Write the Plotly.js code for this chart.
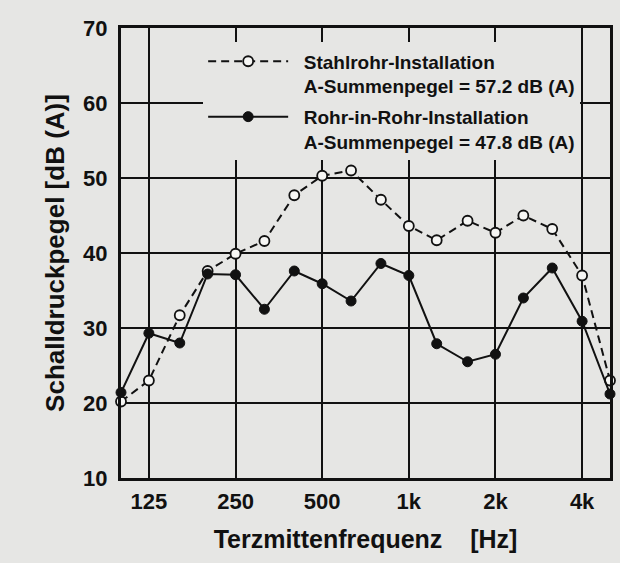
<!DOCTYPE html>
<html>
<head>
<meta charset="utf-8">
<script src="https://cdn.plot.ly/plotly-3.0.1.min.js"></script>
<style>html,body{margin:0;padding:0;background:#e6e6e4;}#chart{width:620px;height:563px;}</style>
</head>
<body>
<div id="chart"></div>
<script>
// Third-octave band centre frequencies [Hz]
const freqs = [100, 125, 160, 200, 250, 315, 400, 500, 630, 800, 1000, 1250, 1600, 2000, 2500, 3150, 4000, 5000];
// Stahlrohr-Installation [dB(A)]
const stahlrohr = [20.2, 23.0, 31.7, 37.6, 39.9, 41.6, 47.7, 50.3, 51.0, 47.1, 43.6, 41.7, 44.3, 42.7, 45.0, 43.2, 37.0, 23.0];
// Rohr-in-Rohr-Installation [dB(A)]
const rohrInRohr = [21.4, 29.3, 28.0, 37.2, 37.1, 32.5, 37.6, 35.9, 33.6, 38.6, 37.0, 27.9, 25.5, 26.5, 34.0, 38.0, 30.9, 21.2];
const tickVals = [125, 250, 500, 1000, 2000, 4000];
const tickText = ['125', '250', '500', '1k', '2k', '4k'];
const seriesNames = [
  '&nbsp;&nbsp;Stahlrohr-Installation<br>&nbsp;&nbsp;A-Summenpegel = 57.2 dB (A)',
  '&nbsp;&nbsp;Rohr-in-Rohr-Installation<br>&nbsp;&nbsp;A-Summenpegel = 47.8 dB (A)'
];

const FONT = 'Liberation Sans, Arial, Helvetica, sans-serif';
const BG = '#e6e6e4';
const INK = '#111';

const traces = [
  {
    x: freqs, y: stahlrohr, name: seriesNames[0], legendgroup: 'stahl', type: 'scatter', mode: 'lines+markers',
    line: {color: INK, width: 2, dash: '8px,5px'},
    marker: {symbol: 'circle', size: 10, color: '#f6f6f4', line: {color: INK, width: 1.8}},
    cliponaxis: false
  },
  {
    x: freqs, y: rohrInRohr, name: seriesNames[1], legendgroup: 'rohr', type: 'scatter', mode: 'lines+markers',
    line: {color: INK, width: 2},
    marker: {symbol: 'circle', size: 10, color: INK, line: {color: INK, width: 1}},
    cliponaxis: false
  }
];

const layout = {
  width: 620, height: 563,
  paper_bgcolor: BG, plot_bgcolor: BG,
  margin: {l: 121, r: 10, t: 28, b: 85},
  showlegend: true,
  font: {family: FONT, color: INK},
  xaxis: {
    type: 'log', range: [Math.log10(100), Math.log10(5000)],
    tickvals: tickVals, ticktext: tickText,
    showgrid: true, gridcolor: INK, gridwidth: 2,
    showline: true, mirror: true, linecolor: INK, linewidth: 3,
    ticks: '', zeroline: false, ticklabelstandoff: 2,
    tickfont: {family: FONT, size: 22, color: INK, weight: 'bold'},
    title: {text: 'Terzmittenfrequenz&nbsp;&nbsp;&nbsp;&nbsp;[Hz]', font: {family: FONT, size: 25, color: INK, weight: 'bold'}, standoff: 18}
  },
  yaxis: {
    range: [10, 70], dtick: 10, tick0: 10,
    showgrid: true, gridcolor: INK, gridwidth: 2,
    showline: true, mirror: true, linecolor: INK, linewidth: 3,
    ticks: '', zeroline: false, ticklabelstandoff: 6,
    tickfont: {family: FONT, size: 22, color: INK, weight: 'bold'},
    title: {text: 'Schalldruckpegel [dB (A)]', font: {family: FONT, size: 26, color: INK, weight: 'bold'}, standoff: 12}
  },
  legend: {
    x: 0.168, y: 0.968, xanchor: 'left', yanchor: 'top',
    bgcolor: BG, borderwidth: 0,
    font: {family: FONT, size: 19, color: INK, weight: 'bold'},
    itemwidth: 80, valign: 'top', tracegroupgap: 3
  }
};

Plotly.newPlot('chart', traces, layout, {displayModeBar: false, staticPlot: true});
</script>
</body>
</html>
